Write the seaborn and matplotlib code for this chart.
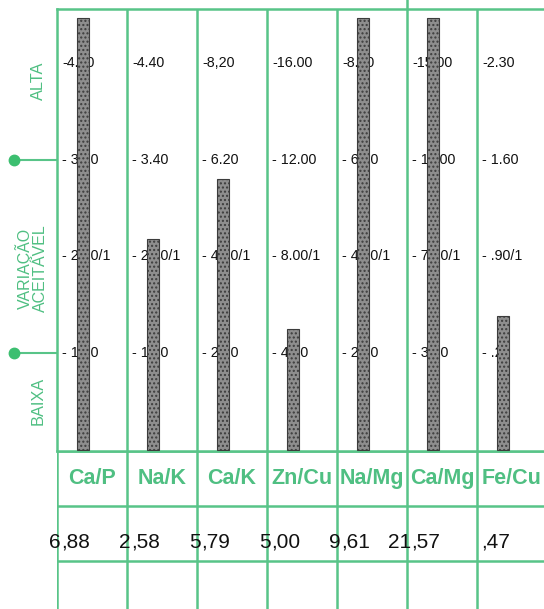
import numpy as np
import pandas as pd
import seaborn as sns
import matplotlib.pyplot as plt

# mineral ratios, measured values and reference levels per column
ratios = ["Ca/P", "Na/K", "Ca/K", "Zn/Cu", "Na/Mg", "Ca/Mg", "Fe/Cu"]
values = [6.88, 2.58, 5.79, 5.00, 9.61, 21.57, 0.47]
value_labels = ["6,88", "2,58", "5,79", "5,00", "9,61", "21,57", ",47"]

baixa = [1.60, 1.40, 2.20, 4.00, 2.00, 3.00, 0.20]
ideal = [2.60, 2.40, 4.20, 8.00, 4.00, 7.00, 0.90]
media_alta = [3.60, 3.40, 6.20, 12.00, 6.00, 11.00, 1.60]
alta = [4.60, 4.40, 8.20, 16.00, 8.00, 15.00, 2.30]

alta_labels = ["-4.60", "-4.40", "-8,20", "-16.00", "-8.00", "-15.00", "-2.30"]
media_labels = ["- 3.60", "- 3.40", "- 6.20", "- 12.00", "- 6.00", "- 11.00", "- 1.60"]
ideal_labels = ["- 2.60/1", "- 2.40/1", "- 4.20/1", "- 8.00/1", "- 4.00/1", "- 7.00/1", "- .90/1"]
baixa_labels = ["- 1.60", "- 1.40", "- 2.20", "- 4.00", "- 2.00", "- 3.00", "- .20"]

GREEN = "#58c488"
TGREEN = "#4fbf82"
W, H = 544, 609

sns.set_theme(style="white")
plt.rcParams["font.family"] = ["Liberation Sans", "DejaVu Sans"]

# position of each bar on the level scale (1 = baixa ... 4 = alta)
pos = []
for i, v in enumerate(values):
    lv = [baixa[i], ideal[i], media_alta[i], alta[i]]
    p = np.interp(v, lv, [1, 2, 3, 4])
    if v > lv[-1]:
        p = 4.46
    pos.append(p)
df = pd.DataFrame({"ratio": ratios, "pos": pos})

fig = plt.figure(figsize=(W / 100, H / 100), dpi=100)
fig.patch.set_facecolor("white")

# bar area
ax = fig.add_axes([57 / W, (H - 451) / H, 490 / W, 442 / H])
sns.barplot(data=df, x="ratio", y="pos", width=0.16, color="#8e8e8e",
            edgecolor="#3c3c3c", linewidth=0.8, hatch="....", ax=ax, zorder=3)
for p in ax.patches:
    p.set_x(p.get_x() - 0.13)
ax.set_xlim(-0.5, 6.5)
ax.set_ylim(-0.013, 4.558)
ax.set_xticks([])
ax.set_yticks([])
ax.set_xlabel("")
ax.set_ylabel("")
for s in ax.spines.values():
    s.set_color(GREEN)
    s.set_linewidth(1.8)
for i in range(7):
    ax.axvline(i + 0.5, color=GREEN, lw=1.8, zorder=1)

rows = [baixa_labels, ideal_labels, media_labels, alta_labels]
for lvl, labels in enumerate(rows, start=1):
    for i, t in enumerate(labels):
        ax.text(i - 0.5 + 5 / 70, lvl, t, ha="left", va="center",
                fontsize=10.3, color="#111111", zorder=2)

# green markers on the left
for lvl in [1, 3]:
    ax.plot([-0.5 - 43 / 70, -0.5], [lvl, lvl], color=GREEN, lw=1.5,
            clip_on=False, zorder=4)
    ax.plot(-0.5 - 43 / 70, lvl, "o", color="#3cbf70", ms=7.5,
            clip_on=False, zorder=5)
ax.plot([4.5, 4.5], [4.558, 4.66], color=GREEN, lw=1.8, clip_on=False)

fig.text(38 / W, 1 - 81 / H, "ALTA", rotation=90, ha="center", va="center",
         fontsize=11.8, color=TGREEN)
fig.text(31 / W, 1 - 268 / H, "VARIAÇÃO\nACEITÁVEL", rotation=90, ha="center",
         va="center", fontsize=11.5, color=TGREEN, linespacing=1.0,
         multialignment="center")
fig.text(38 / W, 1 - 401 / H, "BAIXA", rotation=90, ha="center", va="center",
         fontsize=11.8, color=TGREEN)

# table below the bars
tx = fig.add_axes([57 / W, (H - 616) / H, 490 / W, 165 / H])
tx.set_xlim(-0.5, 6.5)
tx.set_ylim(3, 0)
tx.axis("off")
for r in [0, 1, 2, 3]:
    tx.axhline(r, color=GREEN, lw=1.8)
for i in range(8):
    tx.axvline(i - 0.5, color=GREEN, lw=1.8)
for i, name in enumerate(ratios):
    tx.text(i, 0.5, name, ha="center", va="center", fontsize=15.5,
            fontweight="bold", color=TGREEN)
for i, lab in enumerate(value_labels):
    ip, dp = lab.split(",")
    x0 = i - 0.5 + 4 / 70
    tx.text(x0, 1.66, ip, ha="right", va="center", fontsize=15, color="#111111")
    tx.text(x0, 1.66, "," + dp, ha="left", va="center", fontsize=15, color="#111111")

fig.savefig("out.png", dpi=100, facecolor="white")
